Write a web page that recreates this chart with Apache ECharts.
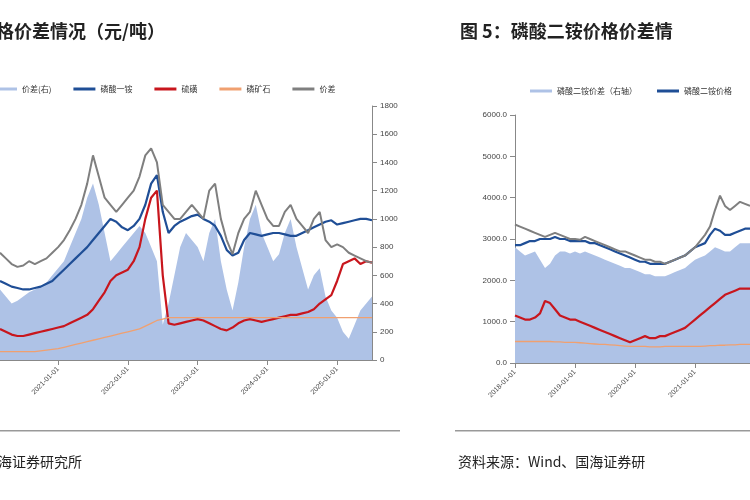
<!DOCTYPE html>
<html><head><meta charset="utf-8">
<script src="https://cdn.jsdelivr.net/npm/echarts@6/dist/echarts.min.js"></script>
<style>body{margin:0;background:#fff}#c{width:750px;height:500px}</style>
</head><body><div id="c"></div>
<script>
// 左图：月度 2020-03 ~ 2025-07
const monthsL = [];
for (let y = 2020; y <= 2025; y++) for (let m = 1; m <= 12; m++) {
  if ((y === 2020 && m < 3) || (y === 2025 && m > 7)) continue;
  monthsL.push(y + '-' + String(m).padStart(2, '0') + '-01');
}
const mapL = [500,450,400,420,450,480,500,520,550,600, 650,700,800,900,1000,1150,1250,1100,900,700,750,800, 850,900,950,900,800,700,250,400,600,800,900,850, 800,700,900,1000,700,500,350,550,800,1000,1100,900, 800,700,750,900,1000,800,650,500,600,650,450,350, 300,200,150,250,350,400,450];
const mapPrice = [560,540,520,510,500,500,510,520,540,560, 600,640,680,720,760,800,850,900,950,1000,980,940, 920,950,1000,1100,1250,1310,1050,900,950,980,1000,1020, 1030,1000,980,950,880,780,740,760,850,900,890,880, 890,900,900,890,880,880,900,920,940,960,980,990, 960,970,980,990,1000,1000,990];
const sulfur = [220,200,180,170,170,180,190,200,210,220, 230,240,260,280,300,320,360,420,480,560,600,620, 640,700,800,1000,1150,1200,600,260,250,260,270,280, 290,280,260,240,220,210,230,260,280,290,280,270, 280,290,300,310,320,320,330,340,360,400,430,460, 560,680,700,720,680,700,690];
const rock = [60,60,60,60,60,60,60,65,70,75, 80,90,100,110,120,130,140,150,160,170,180,190, 200,210,220,240,260,280,290,300,300,300,300,300, 300,300,300,300,300,300,300,300,300,300,300,300, 300,300,300,300,300,300,300,300,300,300,300,300, 300,300,300,300,300,300,300];
const spreadL = [760,720,680,660,670,700,680,700,720,760, 800,850,920,1000,1100,1250,1450,1300,1150,1100,1050,1100, 1150,1200,1300,1450,1500,1400,1100,1050,1000,1000,1050,1100, 1050,1000,1200,1250,1000,850,750,900,1000,1050,1200,1100, 1000,950,950,1050,1100,1000,950,900,1000,1050,850,800, 820,800,760,740,720,700,690];

// 右图：月度 2018-01 ~ 2021-12
const monthsR = [];
for (let y = 2018; y <= 2021; y++) for (let m = 1; m <= 12; m++) monthsR.push(y + '-' + String(m).padStart(2, '0') + '-01');
const dapArea = [2800,2700,2600,2650,2700,2500,2300,2400,2600,2700,2700,2650, 2700,2650,2700,2650,2600,2550,2500,2450,2400,2350,2300,2300, 2250,2200,2150,2150,2100,2100,2100,2150,2200,2250,2300,2400, 2500,2550,2600,2700,2800,2750,2700,2700,2800,2900,2900,2900];
const dapPrice = [2850,2850,2900,2950,2950,3000,3000,3000,3050,3000,3000,2950, 2950,2950,2950,2900,2900,2850,2800,2750,2700,2650,2600,2550, 2500,2450,2450,2400,2400,2400,2400,2450,2500,2550,2600,2700, 2800,2850,2900,3100,3250,3200,3100,3100,3150,3200,3250,3250];
const dapSulfur = [1150,1100,1050,1050,1100,1200,1500,1450,1300,1150,1100,1050, 1050,1000,950,900,850,800,750,700,650,600,550,500, 550,600,650,600,600,650,650,700,750,800,850,950, 1050,1150,1250,1350,1450,1550,1650,1700,1750,1800,1800,1800];
const dapRock = [520,520,520,520,520,520,520,520,510,510,500,500, 500,490,480,470,460,450,450,440,430,420,410,400, 400,400,400,390,390,390,400,400,400,400,400,400, 400,400,410,420,420,430,430,440,440,450,450,450];
const dapSpread = [3350,3300,3250,3200,3150,3100,3050,3100,3150,3100,3050,3000, 3000,2980,3050,3000,2950,2900,2850,2800,2750,2700,2700,2650, 2600,2550,2500,2500,2450,2450,2400,2450,2500,2550,2600,2700, 2800,2950,3100,3300,3700,4050,3800,3700,3800,3900,3850,3800];

const FONT = 'Noto Sans CJK SC';
const janOnly = (i, v) => v.slice(5, 7) === '01';
const xAx = (idx, data) => ({
  type: 'category', gridIndex: idx, data: data, boundaryGap: false,
  axisLine: { lineStyle: { color: '#888' } },
  axisTick: { interval: janOnly, lineStyle: { color: '#888' } },
  axisLabel: { interval: janOnly, rotate: 45, fontSize: 7, color: '#444', fontFamily: 'Arial' },
  splitLine: { show: false }
});
const line = (name, data, color, w, xi) => ({
  name: name, type: 'line', data: data, xAxisIndex: xi, yAxisIndex: xi, symbol: 'none',
  lineStyle: { color: color, width: w }, itemStyle: { color: color }
});
const area = (name, data, xi) => ({
  name: name, type: 'line', data: data, xAxisIndex: xi, yAxisIndex: xi, symbol: 'none',
  lineStyle: { width: 0 }, itemStyle: { color: '#aec2e6' }, areaStyle: { color: '#aec2e6', opacity: 1 }
});

const chart = echarts.init(document.getElementById('c'));
chart.setOption({
  animation: false,
  textStyle: { fontFamily: FONT },
  grid: [
    { left: 0, right: 378, top: 106, bottom: 140 },
    { left: 515, right: -33, top: 115, bottom: 137 }
  ],
  xAxis: [xAx(0, monthsL), xAx(1, monthsR)],
  yAxis: [
    { type: 'value', gridIndex: 0, position: 'right', min: 0, max: 1800, interval: 200,
      axisLine: { show: true, lineStyle: { color: '#888' } }, axisTick: { show: true },
      axisLabel: { fontSize: 8, color: '#444', fontFamily: 'Arial', formatter: v => String(v) },
      splitLine: { show: false } },
    { type: 'value', gridIndex: 1, min: 0, max: 6000, interval: 1000,
      axisLine: { show: true, lineStyle: { color: '#888' } }, axisTick: { show: true },
      axisLabel: { fontSize: 8, color: '#444', fontFamily: 'Arial', formatter: v => v.toFixed(1) },
      splitLine: { show: false } }
  ],
  legend: [
    { left: -10, top: 80, itemWidth: 22, itemHeight: 3, itemGap: 22, icon: 'rect',
      textStyle: { fontSize: 8, color: '#333' },
      data: ['价差(右)', '磷酸一铵', '硫磺', '磷矿石', '价差'] },
    { left: 525, top: 82, itemWidth: 22, itemHeight: 3, itemGap: 20, icon: 'rect',
      textStyle: { fontSize: 8, color: '#333' },
      data: ['磷酸二铵价差（右轴）', '磷酸二铵价格'] }
  ],
  series: [
    area('价差(右)', mapL, 0),
    line('磷酸一铵', mapPrice, '#1f4e96', 2.2, 0),
    line('硫磺', sulfur, '#c8161d', 2.2, 0),
    line('磷矿石', rock, '#f0a070', 1.3, 0),
    line('价差', spreadL, '#7f7f7f', 2, 0),
    area('磷酸二铵价差（右轴）', dapArea, 1),
    line('磷酸二铵价格', dapPrice, '#1f4e96', 2.2, 1),
    line('硫磺 ', dapSulfur, '#c8161d', 2.2, 1),
    line('磷矿石 ', dapRock, '#f0a070', 1.3, 1),
    line('价差 ', dapSpread, '#7f7f7f', 2, 1)
  ],
  graphic: [
    { type: 'text', left: -4, top: 22, style: { text: '格价差情况（元/吨）', font: 'bold 18px "Noto Sans CJK SC"', fill: '#222' } },
    { type: 'text', left: 460, top: 22, style: { text: '图 5：磷酸二铵价格价差情', font: 'bold 18px "Noto Sans CJK SC"', fill: '#222' } },
    { type: 'rect', shape: { x: 0, y: 430, width: 400, height: 1.5 }, style: { fill: '#999' } },
    { type: 'rect', shape: { x: 455, y: 430, width: 295, height: 1.5 }, style: { fill: '#999' } },
    { type: 'text', left: -2, top: 455, style: { text: '海证券研究所', font: '14px "Noto Sans CJK SC"', fill: '#222' } },
    { type: 'text', left: 458, top: 455, style: { text: '资料来源：Wind、国海证券研', font: '14px "Noto Sans CJK SC"', fill: '#222' } }
  ]
});
</script></body></html>
